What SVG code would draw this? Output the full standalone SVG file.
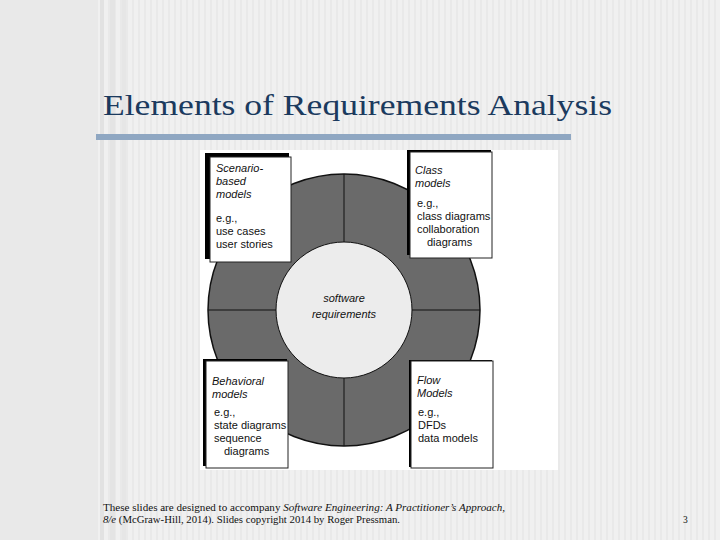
<svg xmlns="http://www.w3.org/2000/svg" width="720" height="540" viewBox="0 0 720 540">
<style>
.t{font-family:"Liberation Sans",Arial,sans-serif;font-size:11px;fill:#111}
.i{font-style:italic}
.box{fill:#fff;stroke:#222;stroke-width:1}
.sh{fill:#000}
.f{font-family:"Liberation Serif","Times New Roman",serif;font-size:9.5px;fill:#111}
</style>
<defs>
<pattern id="st" width="6" height="10" patternUnits="userSpaceOnUse"><rect width="6" height="10" fill="#f0f0f0"/><rect width="2" height="10" fill="#e9e9e9"/></pattern>
</defs>
<rect width="720" height="540" fill="#f1f1f1"/>
<rect width="96" height="540" fill="#e9e9e9"/>
<rect x="96" width="624" height="540" fill="url(#st)"/>
<rect x="100" width="4" height="540" fill="#e2e2e2"/>
<rect x="110" width="5" height="540" fill="#e4e4e4"/>
<rect x="122" width="4" height="540" fill="#e6e6e6"/>
<text x="103" y="115" font-family="'Liberation Serif','Times New Roman',serif" font-size="30" fill="#1b3a5e" textLength="509" lengthAdjust="spacingAndGlyphs">Elements of Requirements Analysis</text>
<rect x="96" y="134" width="475" height="6" fill="#8fa7c2"/>
<rect x="200" y="150" width="358" height="320" fill="#fff"/>
<g id="wheel">
<circle cx="344" cy="310" r="136" fill="#6a6a6a" stroke="#111" stroke-width="1.5"/>
<line x1="344" y1="174" x2="344" y2="446" stroke="#111"/>
<line x1="208" y1="310" x2="480" y2="310" stroke="#111"/>
<circle cx="344" cy="310" r="68" fill="#ececec" stroke="#111" stroke-width="1"/>
<text class="t i" x="344" y="302" text-anchor="middle" font-size="12">software</text>
<text class="t i" x="344" y="318" text-anchor="middle" font-size="12">requirements</text>
</g>
<g id="scenario">
<rect class="sh" x="205" y="153" width="84" height="106"/>
<rect class="box" x="210" y="157" width="81" height="105"/>
<text class="t i" x="216" y="172">Scenario-</text>
<text class="t i" x="216" y="185">based</text>
<text class="t i" x="216" y="198">models</text>
<text class="t" x="216" y="222">e.g.,</text>
<text class="t" x="216" y="235">use cases</text>
<text class="t" x="216" y="248">user stories</text>
</g>
<g id="class">
<rect class="sh" x="407" y="150" width="84" height="105"/>
<rect class="box" x="410" y="152" width="82" height="106"/>
<text class="t i" x="415" y="174">Class</text>
<text class="t i" x="415" y="187">models</text>
<text class="t" x="417" y="207">e.g.,</text>
<text class="t" x="417" y="220">class diagrams</text>
<text class="t" x="417" y="233">collaboration</text>
<text class="t" x="427" y="246">diagrams</text>
</g>
<g id="behavioral">
<rect class="sh" x="203" y="359" width="84" height="107"/>
<rect class="box" x="206" y="361" width="82" height="107"/>
<text class="t i" x="212" y="385">Behavioral</text>
<text class="t i" x="212" y="398">models</text>
<text class="t" x="214" y="416">e.g.,</text>
<text class="t" x="214" y="429">state diagrams</text>
<text class="t" x="214" y="442">sequence</text>
<text class="t" x="224" y="455">diagrams</text>
</g>
<g id="flow">
<rect class="sh" x="409" y="360" width="83" height="107"/>
<rect class="box" x="411" y="361" width="82" height="107"/>
<text class="t i" x="417" y="384">Flow</text>
<text class="t i" x="417" y="397">Models</text>
<text class="t" x="418" y="416">e.g.,</text>
<text class="t" x="418" y="429">DFDs</text>
<text class="t" x="418" y="442">data models</text>
</g>
<g id="connectors"></g>
<text class="f" x="103" y="511" textLength="402" lengthAdjust="spacingAndGlyphs">These slides are designed to accompany <tspan font-style="italic">Software Engineering: A Practitioner’s Approach,</tspan></text>
<text class="f" x="103" y="523" textLength="297" lengthAdjust="spacingAndGlyphs"><tspan font-style="italic">8/e</tspan> (McGraw-Hill, 2014). Slides copyright 2014 by Roger Pressman.</text>
<text class="f" x="683" y="523">3</text>
</svg>
